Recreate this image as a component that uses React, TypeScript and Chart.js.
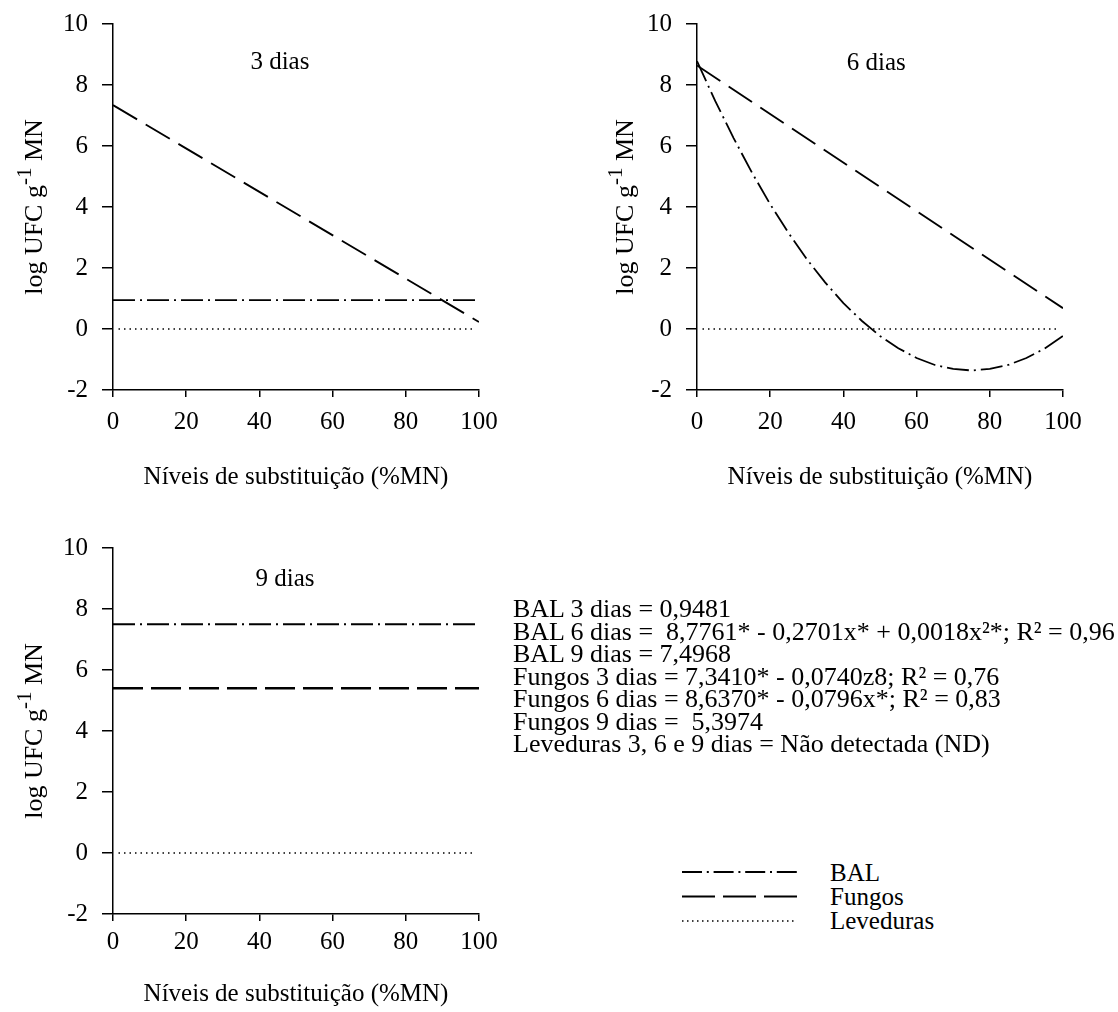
import React, { useEffect, useRef } from "react";
import { Chart, registerables } from "chart.js";

Chart.register(...registerables);

const FONT = "'Liberation Serif', 'Times New Roman', serif";

// ---------- data ----------
const xTickValues = [0, 20, 40, 60, 80, 100];
const yTickValues = [-2, 0, 2, 4, 6, 8, 10];

const xEnds = [0, 100];
const xLeveduras = [1.5, 99];
const xCurve = [0, 5, 10, 15, 20, 25, 30, 35, 40, 45, 50, 55, 60, 65, 70, 75, 80, 85, 90, 95, 100];

const bal3 = [0.95, 0.95];
const fungos3 = [7.34, 0.23];
const leveduras3 = [0, 0];

const bal6 = [8.78, 7.47, 6.26, 5.13, 4.09, 3.15, 2.29, 1.53, 0.85, 0.27, -0.23, -0.63, -0.95, -1.18, -1.31, -1.36, -1.31, -1.18, -0.95, -0.64, -0.23];
const fungos6 = [8.64, 0.68];
const leveduras6 = [0, 0];

const bal9 = [7.5, 7.5];
const fungos9 = [5.4, 5.4];
const leveduras9 = [0, 0];

const panelLabels = ["3 dias", "6 dias", "9 dias"];
const xTitle = "Níveis de substituição (%MN)";
const legendLabels = ["BAL", "Fungos", "Leveduras"];
const equationLines = [
  "BAL 3 dias = 0,9481",
  "BAL 6 dias =  8,7761* - 0,2701x* + 0,0018x²*; R² = 0,96",
  "BAL 9 dias = 7,4968",
  "Fungos 3 dias = 7,3410* - 0,0740z8; R² = 0,76",
  "Fungos 6 dias = 8,6370* - 0,0796x*; R² = 0,83",
  "Fungos 9 dias =  5,3974",
  "Leveduras 3, 6 e 9 dias = Não detectada (ND)",
];

// ---------- styles ----------
const BAL_DASH = [22, 5, 2, 5];
const FUNGOS_DASH = [28, 10];
const LEV_DASH = [1.5, 4];
const legendDashes = [[20, 4.8, 2, 4.8], [33, 8], [1.5, 3.5]];

const pts = (xs: number[], ys: number[]) => xs.map((x, i) => ({ x, y: ys[i] }));

const ds = (data: any, dash: number[], width: number) => ({
  data,
  showLine: true,
  pointRadius: 0,
  borderColor: "#000",
  borderWidth: width,
  borderDash: dash,
  tension: 0,
  fill: false,
});

const decorPlugin = {
  id: "decor",
  afterDraw(chart: any, _args: any, opts: any) {
    const { ctx, chartArea } = chart;
    ctx.save();
    ctx.fillStyle = "#000";
    ctx.font = `25px ${FONT}`;
    ctx.textAlign = "center";
    ctx.textBaseline = "middle";
    ctx.fillText(
      opts.label,
      chartArea.left + opts.labelFx * (chartArea.right - chartArea.left),
      chartArea.top + opts.labelDy
    );
    // rotated y title with superscript
    const cy = (chartArea.top + chartArea.bottom) / 2 + (opts.titleDy || 0);
    ctx.translate(opts.titleBaseX, cy);
    ctx.rotate(-Math.PI / 2);
    ctx.textAlign = "left";
    ctx.textBaseline = "alphabetic";
    const parts: [string, number, number][] = [
      ["log UFC g", 26, 0],
      ["-1", 21, -11],
      [" MN", 26, 0],
    ];
    let total = 0;
    for (const [t, s] of parts) {
      ctx.font = `${s}px ${FONT}`;
      total += ctx.measureText(t).width;
    }
    let x = -total / 2;
    for (const [t, s, dy] of parts) {
      ctx.font = `${s}px ${FONT}`;
      ctx.fillText(t, x, dy);
      x += ctx.measureText(t).width;
    }
    ctx.restore();
  },
};

type PanelCfg = {
  left: number;
  top: number;
  w: number;
  h: number;
  padding: { top: number; right: number; bottom: number; left: number };
  yWidth: number;
  xHeight: number;
  xTickPad: number;
  xTitlePadBottom: number;
  label: string;
  labelFx: number;
  labelDy: number;
  titleBaseX: number;
  datasets: any[];
};

const panels: PanelCfg[] = [
  {
    left: 0, top: 0, w: 559, h: 500,
    padding: { top: 24, right: 80, bottom: 0, left: 0 },
    yWidth: 113, xHeight: 110, xTickPad: 10, xTitlePadBottom: 8,
    label: panelLabels[0], labelFx: 0.456, labelDy: 38, titleBaseX: 42,
    datasets: [
      ds(pts(xEnds, bal3), BAL_DASH, 1.8),
      ds(pts(xEnds, fungos3), FUNGOS_DASH, 1.9),
      ds(pts(xLeveduras, leveduras3), LEV_DASH, 1.5),
    ],
  },
  {
    left: 559, top: 0, w: 559, h: 500,
    padding: { top: 24, right: 55, bottom: 0, left: 0 },
    yWidth: 138, xHeight: 110, xTickPad: 10, xTitlePadBottom: 8,
    label: panelLabels[1], labelFx: 0.49, labelDy: 39, titleBaseX: 74,
    datasets: [
      ds(pts(xCurve, bal6), BAL_DASH, 1.8),
      ds(pts(xEnds, fungos6), FUNGOS_DASH, 1.9),
      ds(pts(xLeveduras, leveduras6), LEV_DASH, 1.5),
    ],
  },
  {
    left: 0, top: 520, w: 559, h: 492,
    padding: { top: 28, right: 80, bottom: 0, left: 0 },
    yWidth: 113, xHeight: 98, xTickPad: 6, xTitlePadBottom: 3,
    label: panelLabels[2], labelFx: 0.47, labelDy: 31, titleBaseX: 42,
    datasets: [
      ds(pts(xEnds, bal9), BAL_DASH, 2.2),
      ds(pts(xEnds, fungos9), [30, 8], 2.6),
      ds(pts(xLeveduras, leveduras9), LEV_DASH, 1.5),
    ],
  },
];

function Panel({ cfg }: { cfg: PanelCfg }) {
  const ref = useRef<HTMLCanvasElement>(null);
  useEffect(() => {
    const tickFont = { family: FONT, size: 25 };
    const chart = new Chart(ref.current as HTMLCanvasElement, {
      type: "scatter",
      data: { datasets: cfg.datasets },
      plugins: [decorPlugin as any],
      options: {
        animation: false,
        responsive: false,
        devicePixelRatio: 1,
        layout: { padding: cfg.padding },
        plugins: {
          legend: { display: false },
          tooltip: { enabled: false },
          decor: {
            label: cfg.label,
            labelFx: cfg.labelFx,
            labelDy: cfg.labelDy,
            titleBaseX: cfg.titleBaseX,
          },
        } as any,
        scales: {
          x: {
            type: "linear",
            min: 0,
            max: 100,
            afterBuildTicks: (s: any) => {
              s.ticks = xTickValues.map((v) => ({ value: v }));
            },
            afterFit: (s: any) => {
              s.height = cfg.xHeight;
            },
            ticks: {
              color: "#000",
              font: tickFont,
              padding: cfg.xTickPad,
              maxRotation: 0,
              autoSkip: false,
            },
            grid: {
              drawOnChartArea: false,
              drawTicks: true,
              tickLength: 7,
              color: "#000",
              lineWidth: 1.5,
            },
            border: { display: true, color: "#000", width: 1.5 },
            title: {
              display: true,
              text: xTitle,
              color: "#000",
              font: tickFont,
              padding: { top: 0, bottom: cfg.xTitlePadBottom },
            },
          },
          y: {
            type: "linear",
            min: -2,
            max: 10,
            afterBuildTicks: (s: any) => {
              s.ticks = yTickValues.map((v) => ({ value: v }));
            },
            afterFit: (s: any) => {
              s.width = cfg.yWidth;
            },
            ticks: {
              color: "#000",
              font: { family: FONT, size: 25, lineHeight: 0.6 },
              padding: 14,
              autoSkip: false,
            },
            grid: {
              drawOnChartArea: false,
              drawTicks: true,
              tickLength: 11,
              color: "#000",
              lineWidth: 1.5,
            },
            border: { display: true, color: "#000", width: 1.5 },
            title: { display: false },
          },
        },
      } as any,
    });
    return () => chart.destroy();
  }, []);
  return (
    <canvas
      ref={ref}
      width={cfg.w}
      height={cfg.h}
      style={{ position: "absolute", left: cfg.left, top: cfg.top, width: cfg.w, height: cfg.h, display: "block" }}
    />
  );
}

export default function App() {
  return (
    <div
      style={{
        position: "absolute",
        left: 0,
        top: 0,
        width: 1118,
        height: 1012,
        background: "#fff",
        overflow: "hidden",
        fontFamily: FONT,
        color: "#000",
      }}
    >
      {panels.map((p, i) => (
        <Panel key={i} cfg={p} />
      ))}
      <div
        style={{
          position: "absolute",
          left: 513,
          top: 598,
          fontSize: 26,
          lineHeight: "22.5px",
          whiteSpace: "pre",
        }}
      >
        {equationLines.map((l, i) => (
          <div key={i}>{l}</div>
        ))}
      </div>
      <svg
        width={140}
        height={90}
        style={{ position: "absolute", left: 670, top: 855 }}
      >
        {legendDashes.map((d, i) => (
          <line
            key={i}
            x1={12}
            x2={127}
            y1={17 + i * 24.5}
            y2={17 + i * 24.5}
            stroke="#000"
            strokeWidth={i === 2 ? 1.5 : 2}
            strokeDasharray={d.join(" ")}
          />
        ))}
      </svg>
      {legendLabels.map((l, i) => (
        <div
          key={i}
          style={{
            position: "absolute",
            left: 830,
            top: 873 + i * 24 - 12,
            fontSize: 25,
            lineHeight: "24px",
            whiteSpace: "pre",
          }}
        >
          {l}
        </div>
      ))}
    </div>
  );
}
